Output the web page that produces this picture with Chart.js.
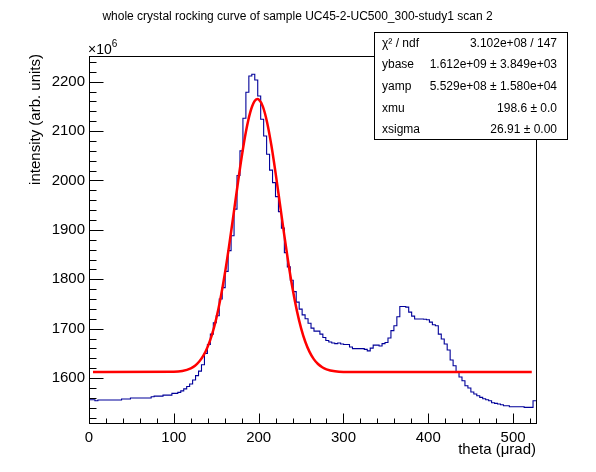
<!DOCTYPE html>
<html>
<head>
<meta charset="utf-8">
<title>whole crystal rocking curve</title>
<script src="https://cdn.jsdelivr.net/npm/chart.js@4.4.1/dist/chart.umd.min.js"></script>
<style>
  html, body { margin: 0; padding: 0; background: #fff; }
  #wrap { width: 596px; height: 472px; }
</style>
</head>
<body>
<div id="wrap"><canvas id="rocking" width="596" height="472"></canvas></div>
<script>
// histogram: 151 bins of 3.49 urad starting at 0 (values in units of 1e6)
const binLow = 0;
const binWidth = 3.49;
const counts = [
  1556, 1556, 1554, 1555.5, 1555.5, 1555.5, 1555.5, 1555.5, 1555.5, 1555.5,
  1555.5, 1557.5, 1557.5, 1557.5, 1559.5, 1559.5, 1559.5, 1559.5, 1559.5, 1559.5,
  1559.5, 1562, 1563.5, 1563.5, 1563.5, 1565.5, 1565.5, 1565.5, 1569, 1569,
  1571, 1574, 1578, 1583, 1588, 1596, 1605, 1614, 1627, 1650,
  1668, 1689, 1712, 1726, 1760, 1783, 1816, 1858, 1888, 1942,
  2010, 2060, 2126, 2178.6, 2211.6, 2215, 2203.5, 2171, 2124, 2090,
  2053, 2021, 1995.7, 1967.4, 1937, 1903.5, 1854, 1825, 1798, 1775,
  1753.7, 1739.5, 1728, 1720, 1711, 1701, 1695, 1695, 1689, 1682,
  1676, 1673, 1671, 1669.7, 1671, 1669, 1668, 1668, 1663, 1659.5,
  1659.5, 1659.5, 1659.5, 1658, 1655, 1660.6, 1666.7, 1666.7, 1665, 1669.7,
  1672, 1681, 1696, 1706, 1724, 1745, 1745, 1743.6, 1733.5, 1725.4,
  1719.4, 1719.4, 1719.4, 1719, 1718, 1713.3, 1708, 1705.8, 1689, 1679,
  1669, 1656.7, 1636.5, 1625, 1613.4, 1602, 1594.5, 1584.4, 1579.8, 1571.7,
  1567.6, 1564.2, 1560.8, 1558.1, 1556.1, 1554.1, 1550, 1548.7, 1547.4, 1546,
  1544, 1544, 1542, 1542, 1542, 1542, 1542, 1540.6, 1540.6, 1540.6,
  1554
];

// gaussian fit curve
const fitX = [4.7, 100, 110, 120, 125, 130, 135, 140, 145, 150, 155, 160, 165, 170,
  175, 180, 185, 190, 195, 198.6, 200, 205, 210, 215, 220, 225, 230, 235, 240,
  245, 250, 255, 260, 265, 270, 275, 280, 290, 300, 522];
const fitY = [1612, 1612.7, 1614.4, 1619.8, 1625.1, 1633.5, 1645.9, 1663.6, 1688, 1720.2,
  1760.8, 1809.6, 1865.6, 1926.3, 1988.4, 2047.4, 2098.6, 2137.4, 2160, 2164.9,
  2164.2, 2149.5, 2117.5, 2071.2, 2015, 1953.7, 1891.9, 1833.5, 1781.3, 1737,
  1701.2, 1673.5, 1653, 1638.3, 1628.4, 1621.8, 1617.7, 1613.7, 1612.5, 1612];

const xTicks = [0, 100, 200, 300, 400, 500];
const xTickLabels = ["0", "100", "200", "300", "400", "500"];
const yTicks = [1600, 1700, 1800, 1900, 2000, 2100, 2200];
const yTickLabels = ["1600", "1700", "1800", "1900", "2000", "2100", "2200"];
const statNames = ["\u03c7\u00b2 / ndf", "ybase", "yamp", "xmu", "xsigma"];
const statValues = ["3.102e+08 / 147", "1.612e+09 \u00b1 3.849e+03",
  "5.529e+08 \u00b1 1.580e+04", "198.6 \u00b1 0.0", "26.91 \u00b1 0.00"];

const FONT = "'Liberation Sans', Arial, Helvetica, sans-serif";
const X_MAX = 527;
const Y_MIN = 1509;
const Y_MAX = 2252;

const histPoints = counts.map((c, i) => ({ x: binLow + i * binWidth, y: c }));
histPoints.push({ x: binLow + counts.length * binWidth, y: counts[counts.length - 1] });
const fitPoints = fitX.map((x, i) => ({ x: x, y: fitY[i] }));

const crisp = (v) => Math.round(v) + 0.5;

// ROOT-like frame, inward ticks, titles and the stats box
const rootDecor = {
  id: "rootDecor",
  afterDraw(chart) {
    const { ctx, chartArea: a, scales: { x, y } } = chart;
    const L = crisp(a.left), R = crisp(a.right), T = crisp(a.top), B = crisp(a.bottom);
    ctx.save();
    ctx.strokeStyle = "#000";
    ctx.lineWidth = 1;
    ctx.strokeRect(L, T, R - L, B - T);

    ctx.beginPath();
    for (let v = 0; v <= X_MAX; v += 20) {
      const p = crisp(x.getPixelForValue(v));
      const len = v % 100 === 0 ? 10 : 5;
      ctx.moveTo(p, B);
      ctx.lineTo(p, B - len);
    }
    for (let v = 1520; v <= Y_MAX; v += 20) {
      const p = crisp(y.getPixelForValue(v));
      const len = v % 100 === 0 ? 14 : 7;
      ctx.moveTo(L, p);
      ctx.lineTo(L + len, p);
    }
    ctx.stroke();

    ctx.fillStyle = "#000";
    // title
    ctx.font = "12px " + FONT;
    ctx.textAlign = "center";
    ctx.textBaseline = "alphabetic";
    ctx.fillText("whole crystal rocking curve of sample UC45-2-UC500_300-study1 scan 2", 297.5, 20);

    // exponent
    ctx.textAlign = "left";
    ctx.font = "14px " + FONT;
    ctx.fillText("\u00d710", 88, 54);
    const w = ctx.measureText("\u00d710").width;
    ctx.font = "10px " + FONT;
    ctx.fillText("6", 88 + w, 47);

    // axis titles
    ctx.font = "15px " + FONT;
    ctx.textAlign = "right";
    ctx.fillText("theta (\u03bcrad)", 536, 454);
    ctx.save();
    ctx.translate(39.5, 54);
    ctx.rotate(-Math.PI / 2);
    ctx.fillText("intensity (arb. units)", 0, 0);
    ctx.restore();

    // stats box
    ctx.fillStyle = "#fff";
    ctx.fillRect(374.5, 32.5, 193, 107);
    ctx.strokeRect(374.5, 32.5, 193, 107);
    ctx.fillStyle = "#000";
    ctx.font = "12px " + FONT;
    ctx.textBaseline = "middle";
    const rows = [43.5, 65, 87, 108.5, 129.5];
    statNames.forEach((name, i) => {
      ctx.textAlign = "left";
      ctx.fillText(name, 382, rows[i]);
      ctx.textAlign = "right";
      ctx.fillText(statValues[i], 557, rows[i]);
    });
    ctx.restore();
  }
};

new Chart(document.getElementById("rocking"), {
  type: "line",
  data: {
    datasets: [
      {
        label: "histogram",
        data: histPoints,
        borderColor: "#000099",
        borderWidth: 1.1,
        stepped: "before",
        pointRadius: 0,
        fill: false,
        order: 2,
      },
      {
        label: "fit",
        data: fitPoints,
        borderColor: "#ff0000",
        borderWidth: 2.5,
        cubicInterpolationMode: "monotone",
        pointRadius: 0,
        fill: false,
        order: 1,
      },
    ],
  },
  options: {
    responsive: false,
    animation: false,
    events: [],
    layout: { padding: { left: 0, right: 60, top: 56, bottom: 0 } },
    plugins: {
      legend: { display: false },
      tooltip: { enabled: false },
      title: { display: false },
    },
    scales: {
      x: {
        type: "linear",
        min: 0,
        max: X_MAX,
        grid: { display: false, drawTicks: false },
        border: { display: false },
        afterBuildTicks: (scale) => { scale.ticks = xTicks.map((v) => ({ value: v })); },
        afterFit: (scale) => { scale.height = 49; },
        ticks: {
          color: "#000",
          padding: 6,
          maxRotation: 0,
          font: { family: FONT, size: 15 },
          callback: (value) => xTickLabels[xTicks.indexOf(value)],
        },
      },
      y: {
        type: "linear",
        min: Y_MIN,
        max: Y_MAX,
        grid: { display: false, drawTicks: false },
        border: { display: false },
        afterBuildTicks: (scale) => { scale.ticks = yTicks.map((v) => ({ value: v })); },
        afterFit: (scale) => { scale.width = 89; },
        ticks: {
          color: "#000",
          padding: 4,
          font: { family: FONT, size: 15 },
          callback: (value) => yTickLabels[yTicks.indexOf(value)],
        },
      },
    },
  },
  plugins: [rootDecor],
});
</script>
</body>
</html>
